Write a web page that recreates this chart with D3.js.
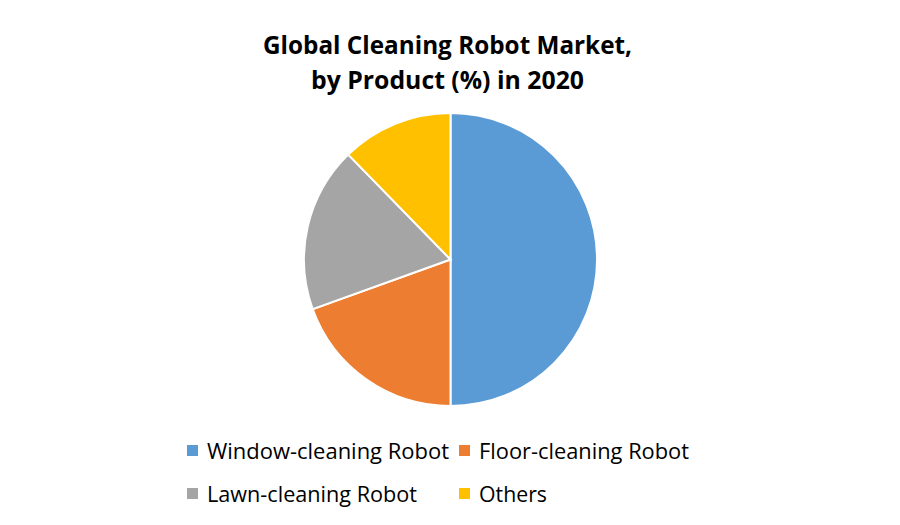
<!DOCTYPE html>
<html>
<head>
<meta charset="utf-8">
<script src="https://cdn.jsdelivr.net/npm/d3@7"></script>
<style>
  body { margin: 0; background: #fff; }
  text { font-family: "Open Sans", "Noto Sans", sans-serif; }
</style>
</head>
<body>
<svg id="chart" width="900" height="525"></svg>
<script>
var titleLines = ["Global Cleaning Robot Market,", "by Product (%) in 2020"];
var categories = ["Window-cleaning Robot", "Floor-cleaning Robot", "Lawn-cleaning Robot", "Others"];
var shares = [50.0, 19.5, 18.2, 12.3];
var colors = ["#5b9bd5", "#ed7d31", "#a5a5a5", "#ffc000"];

var svg = d3.select("#chart");
var cx = 450.5, cy = 259.5, radius = 146.5;

// title, widths fitted to the reference text
var titleWidths = [369, 273];
svg.append("g").selectAll("text").data(titleLines)
	.enter().append("text")
	.attr("x", 447.5)
	.attr("y", function (d, i) { return 54 + i * 35; })
	.attr("text-anchor", "middle")
	.attr("textLength", function (d, i) { return titleWidths[i]; })
	.attr("lengthAdjust", "spacingAndGlyphs")
	.style("font-size", "24.5px")
	.style("font-weight", "bold")
	.style("fill", "#000")
	.text(function (d) { return d; });

// pie
var pie = d3.pie().sort(null).value(function (d) { return d.v; });
var arc = d3.arc().innerRadius(0).outerRadius(radius);
var slices = categories.map(function (c, i) { return { name: c, v: shares[i], color: colors[i] }; });

svg.append("g")
	.attr("transform", "translate(" + cx + "," + cy + ")")
	.selectAll("path").data(pie(slices))
	.enter().append("path")
	.attr("d", arc)
	.style("fill", function (d) { return d.data.color; })
	.style("stroke", "#fff")
	.style("stroke-width", 2);

// legend
var legendPos = [[187, 451], [459, 451], [187, 494], [459, 494]];
var legendWidths = [242, 210, 210, 68];
var legend = svg.append("g").selectAll("g").data(slices)
	.enter().append("g")
	.attr("transform", function (d, i) { return "translate(" + legendPos[i][0] + "," + legendPos[i][1] + ")"; });

legend.append("rect")
	.attr("x", 0).attr("y", -6)
	.attr("width", 11).attr("height", 11)
	.style("fill", function (d) { return d.color; });

legend.append("text")
	.attr("x", 20).attr("y", 7.5)
	.attr("textLength", function (d, i) { return legendWidths[i]; })
	.attr("lengthAdjust", "spacingAndGlyphs")
	.style("font-size", "21px")
	.style("fill", "#000")
	.text(function (d) { return d.name; });
</script>
</body>
</html>
